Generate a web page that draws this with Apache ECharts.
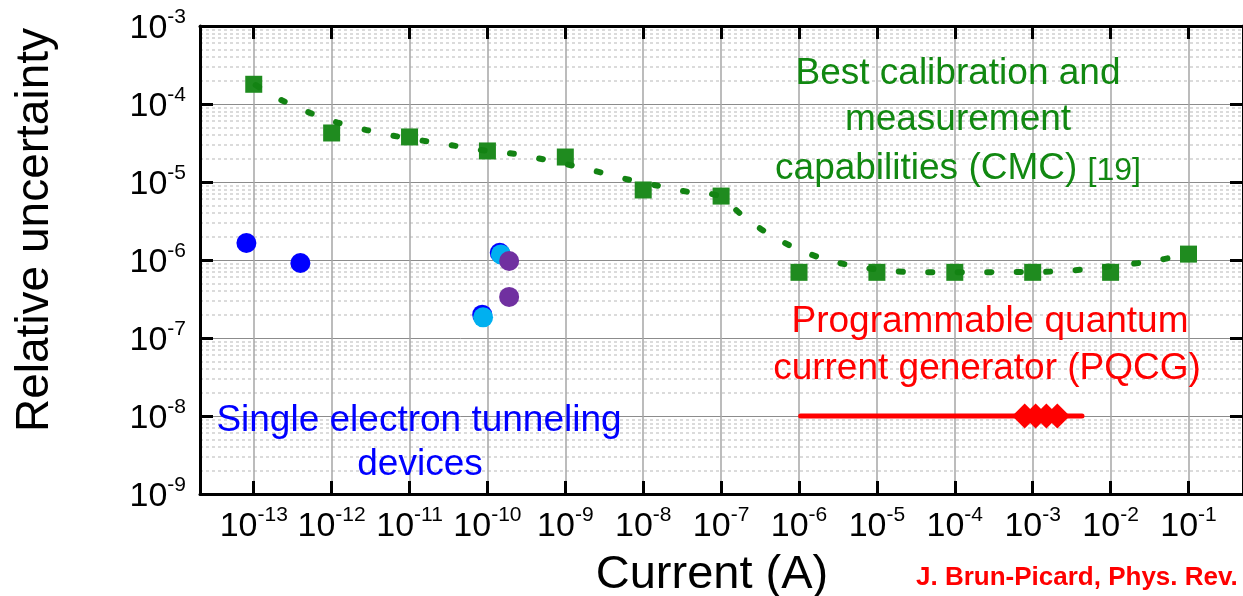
<!DOCTYPE html>
<html>
<head>
<meta charset="utf-8">
<script src="https://cdn.jsdelivr.net/npm/echarts@6/dist/echarts.min.js"></script>
<style>
  html, body { margin: 0; padding: 0; background: #fff; }
  #chart { width: 1243px; height: 596px; }
</style>
</head>
<body>
<div id="chart"></div>
<script>
// CMC points (current in A, relative uncertainty)
var cmcCurrent = [1e-13, 1e-12, 1e-11, 1e-10, 1e-9, 1e-8, 1e-7, 1e-6, 1e-5, 1e-4, 1e-3, 1e-2, 1e-1];
var cmcUncert = [1.79e-4, 4.25e-5, 3.78e-5, 2.5e-5, 2.09e-5, 7.9e-6, 6.6e-6, 6.95e-7, 6.95e-7, 6.95e-7, 6.95e-7, 6.95e-7, 1.19e-6];

// dotted trend curve
var fitCurrent = [1.06e-13, 2.32e-13, 5.27e-13, 1.21e-12, 2.9e-12, 6.85e-12, 1.64e-11, 3.92e-11, 9.46e-11,
  2.24e-10, 5.26e-10, 1.24e-9, 2.91e-9, 6.82e-9, 1.6e-8, 3.83e-8, 9.3e-8, 1.89e-7, 3.9e-7, 8.7e-7,
  2.04e-6, 4.79e-6, 1.15e-5, 2.79e-5, 6.73e-5, 1.62e-4, 3.92e-4, 9.46e-4, 2.29e-3, 5.47e-3, 1.32e-2,
  3.12e-2, 7.46e-2, 1.0e-1];
var fitUncert = [1.75e-4, 1.11e-4, 7.7e-5, 5.75e-5, 4.6e-5, 3.85e-5, 3.33e-5, 2.9e-5, 2.52e-5,
  2.29e-5, 1.95e-5, 1.62e-5, 1.32e-5, 1.06e-5, 8.9e-6, 7.45e-6, 6.62e-6, 3.7e-6, 2.22e-6, 1.44e-6,
  1.04e-6, 8.45e-7, 7.45e-7, 7.0e-7, 6.95e-7, 6.95e-7, 7.0e-7, 7.0e-7, 7.2e-7, 7.7e-7, 8.6e-7,
  9.5e-7, 1.12e-6, 1.2e-6];

// single electron tunneling devices
var setBlueCurrent = [8.05e-14, 3.97e-13, 8.57e-11, 1.44e-10];
var setBlueUncert = [1.65e-6, 9.16e-7, 1.99e-7, 1.24e-6];
var setCyanCurrent = [8.8e-11, 1.49e-10];
var setCyanUncert = [1.84e-7, 1.18e-6];
var setPurpleCurrent = [1.9e-10, 1.9e-10];
var setPurpleUncert = [9.7e-7, 3.36e-7];

// PQCG range and points
var pqcgRangeCurrent = [1.05e-6, 4.3e-3];
var pqcgRangeUncert = [1e-8, 1e-8];
var pqcgCurrent = [7.9e-4, 1.09e-3, 1.5e-3, 2.07e-3];
var pqcgUncert = [1e-8, 1e-8, 1e-8, 1e-8];

// axis decades (exponents)
var xDecades = [-13, -12, -11, -10, -9, -8, -7, -6, -5, -4, -3, -2, -1];
var minorMult = [2, 3, 4, 5, 6, 7, 8, 9];

var FONT = 'Liberation Sans, Arial, sans-serif';

function toLog(xs, ys) {
  return xs.map(function (x, i) { return [Math.log10(x), Math.log10(ys[i])]; });
}

var minorLines = [];
for (var d = -9; d < -3; d++) {
  minorMult.forEach(function (k) { minorLines.push({ yAxis: Math.log10(k) + d }); });
}
var vertLines = xDecades.map(function (v) { return { xAxis: v }; });

var powRich = {
  b: { fontSize: 34, fontFamily: FONT, color: '#000', verticalAlign: 'bottom', lineHeight: 40 },
  s: { fontSize: 21, fontFamily: FONT, color: '#000', verticalAlign: 'bottom', lineHeight: 40, padding: [0, 0, 18, 0] }
};
function powLabel(v) { return '{b|10}{s|' + v + '}'; }

var xBase = {
  type: 'value', min: -13.69, max: -0.3,
  axisLine: { show: true, lineStyle: { color: '#000', width: 3 } },
  axisTick: { show: true, inside: true, length: 13, customValues: xDecades, lineStyle: { color: '#000', width: 3 } },
  splitLine: { show: false }
};
var yBase = {
  type: 'value', min: -9, max: -3, interval: 1,
  axisLine: { show: true, lineStyle: { color: '#000', width: 3 } },
  axisTick: { show: true, inside: true, length: 13, lineStyle: { color: '#000', width: 3 } }
};

var chart = echarts.init(document.getElementById('chart'));
var option = {
  backgroundColor: '#fff',
  animation: false,
  grid: { left: 200, top: 26, right: -6, bottom: 102 },
  xAxis: [
    Object.assign({}, xBase, {
      position: 'bottom',
      axisLabel: { show: true, customValues: xDecades, margin: 10, formatter: powLabel, rich: powRich }
    }),
    Object.assign({}, xBase, { position: 'top', axisLabel: { show: false } })
  ],
  yAxis: [
    Object.assign({}, yBase, {
      position: 'left',
      axisLabel: { show: true, margin: 14, formatter: powLabel, rich: powRich },
      splitLine: { show: true, lineStyle: { color: '#8c8c8c', width: 1 } }
    }),
    Object.assign({}, yBase, { position: 'right', axisLabel: { show: false }, splitLine: { show: false } })
  ],
  series: [
    {
      name: 'grid', type: 'line', data: [], silent: true, z: 0, zlevel: 0,
      markLine: {
        silent: true, symbol: 'none', label: { show: false }, animation: false, z: 0,
        data: minorLines.map(function (m) {
          return Object.assign({ lineStyle: { color: '#cfcfcf', width: 1.5, type: [3, 3] } }, m);
        }).concat(vertLines.map(function (m) {
          return Object.assign({ lineStyle: { color: '#a6a6a6', width: 1.5, type: 'solid' } }, m);
        }))
      }
    },
    {
      name: 'CMC', type: 'scatter', symbol: 'rect', symbolSize: 17, z: 3,
      itemStyle: { color: '#1f8b1f', opacity: 1 },
      data: toLog(cmcCurrent, cmcUncert)
    },
    {
      name: 'CMC trend', type: 'line', showSymbol: false, smooth: 0.3, z: 4,
      lineStyle: { color: '#138313', width: 6, type: [4, 25.5], cap: 'round', opacity: 1 },
      data: toLog(fitCurrent, fitUncert)
    },
    {
      name: 'SET', type: 'scatter', symbol: 'circle', symbolSize: 20, z: 3,
      itemStyle: { color: '#0000ff', opacity: 1 },
      data: toLog(setBlueCurrent, setBlueUncert)
    },
    {
      name: 'SET2', type: 'scatter', symbol: 'circle', symbolSize: 20, z: 3,
      itemStyle: { color: '#00b0f0', opacity: 1 },
      data: toLog(setCyanCurrent, setCyanUncert)
    },
    {
      name: 'SET3', type: 'scatter', symbol: 'circle', symbolSize: 20, z: 3,
      itemStyle: { color: '#7030a0', opacity: 1 },
      data: toLog(setPurpleCurrent, setPurpleUncert)
    },
    {
      name: 'PQCG range', type: 'line', showSymbol: false, z: 3,
      lineStyle: { color: '#ff0000', width: 5, cap: 'round' },
      data: toLog(pqcgRangeCurrent, pqcgRangeUncert)
    },
    {
      name: 'PQCG', type: 'scatter', symbol: 'diamond', symbolSize: 25, z: 4,
      itemStyle: { color: '#ff0000', opacity: 1 },
      data: toLog(pqcgCurrent, pqcgUncert)
    }
  ],
  graphic: [
    { type: 'text', x: 35, y: 230, rotation: Math.PI / 2,
      style: { text: 'Relative uncertainty', fontSize: 46, fontFamily: FONT, fill: '#000', align: 'center', verticalAlign: 'middle' } },
    { type: 'text', x: 712, y: 575,
      style: { text: 'Current (A)', fontSize: 47, fontFamily: FONT, fill: '#000', align: 'center', verticalAlign: 'middle' } },
    { type: 'text', x: 958, y: 74, z: 10,
      style: { text: 'Best calibration and', fontSize: 37, fontFamily: FONT, fill: '#118811', align: 'center', verticalAlign: 'middle' } },
    { type: 'text', x: 958, y: 120, z: 10,
      style: { text: 'measurement', fontSize: 37, fontFamily: FONT, fill: '#118811', align: 'center', verticalAlign: 'middle' } },
    { type: 'text', x: 958, y: 165, z: 10,
      style: { text: '{a|capabilities (CMC) }{c|[19]}', align: 'center', verticalAlign: 'middle',
        rich: {
          a: { fontSize: 37, fontFamily: FONT, fill: '#118811', verticalAlign: 'bottom', lineHeight: 44 },
          c: { fontSize: 32, fontFamily: FONT, fill: '#118811', verticalAlign: 'bottom', lineHeight: 44 }
        } } },
    { type: 'text', x: 990, y: 322, z: 10,
      style: { text: 'Programmable quantum', fontSize: 37, fontFamily: FONT, fill: '#ff0000', align: 'center', verticalAlign: 'middle' } },
    { type: 'text', x: 987, y: 369, z: 10,
      style: { text: 'current generator (PQCG)', fontSize: 37, fontFamily: FONT, fill: '#ff0000', align: 'center', verticalAlign: 'middle' } },
    { type: 'text', x: 419, y: 421, z: 10,
      style: { text: 'Single electron tunneling', fontSize: 37, fontFamily: FONT, fill: '#0000ff', align: 'center', verticalAlign: 'middle' } },
    { type: 'text', x: 420, y: 465, z: 10,
      style: { text: 'devices', fontSize: 37, fontFamily: FONT, fill: '#0000ff', align: 'center', verticalAlign: 'middle' } },
    { type: 'text', x: 916, y: 578,
      style: { text: 'J. Brun-Picard, Phys. Rev.', fontSize: 26, fontWeight: 'bold', fontFamily: FONT, fill: '#ff0000', align: 'left', verticalAlign: 'middle' } }
  ]
};
chart.setOption(option);
</script>
</body>
</html>
